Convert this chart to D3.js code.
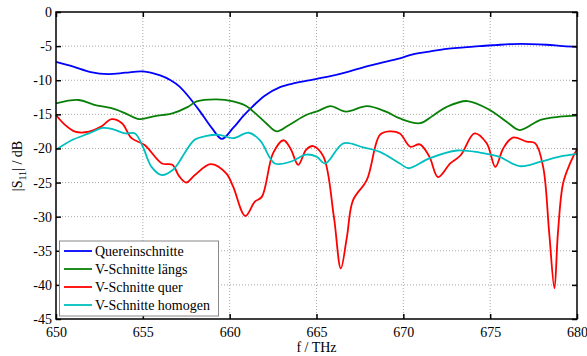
<!DOCTYPE html>
<html>
<head>
<meta charset="utf-8">
<script src="https://cdn.jsdelivr.net/npm/d3@7"></script>
<style>
  body { margin: 0; background: #fff; }
</style>
</head>
<body>
<svg id="chart" width="587" height="356"></svg>
<script>
// Quereinschnitte
const querF = [650, 651, 652, 653, 654, 655, 656, 656.6, 657.1, 657.7, 658.3, 659, 659.55, 660.2, 660.8, 661.3, 662, 662.9, 663.8, 664.8, 665.8, 666.75, 667.7, 668.65, 669.8, 670.55, 671.5, 672.5, 673.5, 674.4, 675.3, 676.3, 677.3, 678.25, 679.2, 680];
const querDb = [-7.3, -8.0, -8.8, -9.1, -8.9, -8.7, -9.3, -10.0, -10.9, -12.6, -14.6, -17.1, -18.6, -17.0, -15.2, -13.9, -12.3, -11.0, -10.4, -9.9, -9.4, -8.8, -8.1, -7.5, -6.8, -6.2, -5.8, -5.4, -5.2, -5.0, -4.85, -4.7, -4.7, -4.8, -5.0, -5.1];

// V-Schnitte längs
const laengsF = [650, 651.3, 652.2, 653.2, 654, 654.8, 655.7, 656.7, 657.6, 658.1, 659.25, 660.2, 660.9, 661.5, 662.1, 662.7, 663.4, 664.4, 665.1, 665.8, 666.7, 667.9, 669, 669.8, 670.95, 671.7, 672.5, 673.7, 675, 676, 676.7, 677.9, 679, 680];
const laengsDb = [-13.4, -12.9, -13.6, -14.1, -14.85, -15.7, -15.25, -14.85, -13.9, -13.1, -12.8, -13.1, -13.7, -14.9, -16.3, -17.5, -16.6, -15.1, -14.5, -13.8, -14.6, -13.8, -14.6, -15.6, -16.3, -15.2, -13.9, -13.05, -14.4, -16.2, -17.3, -15.8, -15.35, -15.2];

// V-Schnitte quer
const vquerF = [650, 650.5, 651.1, 651.9, 652.6, 653.2, 653.8, 654.35, 655.1, 656.1, 656.7, 657.1, 657.5, 658, 658.9, 659.8, 660.2, 660.9, 661.45, 661.85, 662.5, 663.1, 663.5, 663.95, 664.4, 664.8, 665.4, 666, 666.4, 666.75, 667.1, 667.9, 668.65, 669.2, 669.8, 670.4, 670.95, 671.5, 672, 672.7, 673.3, 674.1, 674.8, 675.3, 675.75, 676.3, 677.1, 677.6, 678.05, 678.4, 678.7, 678.9, 679.2, 679.6, 680];
const vquerDb = [-15.1, -16.5, -17.55, -17.55, -16.8, -15.7, -16.3, -18.5, -19.5, -22.2, -22.4, -24.1, -25.0, -23.9, -22.3, -23.65, -25.6, -29.9, -27.8, -27.1, -20.7, -18.8, -20.0, -22.4, -20.2, -19.65, -21.2, -30, -37.6, -33, -27.6, -24.6, -18, -17.5, -17.8, -19.75, -19.4, -21.2, -24.2, -22.2, -21.0, -17.8, -19.25, -22.7, -20.0, -18.4, -19.0, -19.25, -22.7, -32.4, -40.5, -32.45, -25.1, -22.2, -20.1];

// V-Schnitte homogen
const homF = [650, 650.9, 651.9, 652.7, 653.3, 654, 654.55, 655, 655.5, 656.1, 656.7, 657.1, 657.4, 658, 658.6, 659.4, 660.2, 661.1, 661.75, 662.6, 663.5, 664.4, 665, 665.5, 666.55, 667.7, 668.65, 669.8, 670.3, 671.5, 673.1, 674.4, 675.5, 676.7, 677.9, 679, 680];
const homDb = [-20.2, -18.8, -17.8, -17.0, -17.2, -17.8, -17.8, -19.75, -22.7, -23.9, -23.2, -21.95, -20.7, -18.7, -18.2, -18.0, -18.5, -17.7, -18.8, -22.2, -21.95, -20.9, -21.2, -22.2, -19.25, -19.85, -20.5, -22.2, -22.9, -21.45, -20.3, -20.6, -21.2, -22.6, -21.95, -21.2, -20.8];

const xTicks = [650, 655, 660, 665, 670, 675, 680];
const yTicks = [0, -5, -10, -15, -20, -25, -30, -35, -40, -45];

const series = [
  { name: "Quereinschnitte", color: "#0000ff", f: querF, db: querDb },
  { name: "V-Schnitte längs", color: "#088008", f: laengsF, db: laengsDb },
  { name: "V-Schnitte quer", color: "#ff0000", f: vquerF, db: vquerDb },
  { name: "V-Schnitte homogen", color: "#00bfbf", f: homF, db: homDb }
];

const mLeft = 56, mRight = 577, mTop = 12, mBottom = 319;
const fontFam = "Liberation Serif";
const svg = d3.select("#chart");

const x = d3.scaleLinear().domain([650, 680]).range([mLeft, mRight]);
const y = d3.scaleLinear().domain([-45, 0]).range([mBottom, mTop]);

// gitter
const grid = svg.append("g");
xTicks.slice(1, -1).forEach(t => {
  grid.append("line")
    .attr("x1", x(t)).attr("x2", x(t))
    .attr("y1", mTop).attr("y2", mBottom)
    .attr("stroke", "#a8a8a8").attr("stroke-width", 1)
    .attr("stroke-dasharray", "1,2");
});
yTicks.slice(1, -1).forEach(t => {
  grid.append("line")
    .attr("x1", mLeft).attr("x2", mRight)
    .attr("y1", y(t)).attr("y2", y(t))
    .attr("stroke", "#a8a8a8").attr("stroke-width", 1)
    .attr("stroke-dasharray", "1,2");
});

// kurven
const line = d3.line()
  .x(d => x(d[0]))
  .y(d => y(d[1]))
  .curve(d3.curveCatmullRom.alpha(0.5));

const plot = svg.append("g");
series.forEach(s => {
  plot.append("path")
    .datum(s.f.map((f, i) => [f, s.db[i]]))
    .attr("fill", "none")
    .attr("stroke", s.color)
    .attr("stroke-width", 1.8)
    .attr("stroke-linejoin", "round")
    .attr("d", line);
});

// achsen
const tickLen = 5;
const axisG = svg.append("g");
const xAxisB = d3.axisBottom(x).tickValues(xTicks).tickSize(-tickLen).tickPadding(8).tickFormat(d3.format("d"));
const xAxisT = d3.axisTop(x).tickValues(xTicks).tickSize(-tickLen).tickFormat("");
const yAxisL = d3.axisLeft(y).tickValues(yTicks).tickSize(-tickLen).tickPadding(4).tickFormat(d => d === 0 ? "0" : "-" + Math.abs(d));
const yAxisR = d3.axisRight(y).tickValues(yTicks).tickSize(-tickLen).tickFormat("");

[[xAxisB, `translate(0,${mBottom})`], [xAxisT, `translate(0,${mTop})`],
 [yAxisL, `translate(${mLeft},0)`], [yAxisR, `translate(${mRight},0)`]].forEach(([ax, tr]) => {
  const g = axisG.append("g").attr("transform", tr).call(ax);
  g.attr("font-family", fontFam).attr("font-size", 14);
  g.select(".domain").remove();
  g.selectAll(".tick line").attr("stroke", "#000").attr("stroke-width", 1.5);
  g.selectAll("text").attr("fill", "#000").attr("font-family", fontFam);
});

axisG.append("rect")
  .attr("x", mLeft).attr("y", mTop)
  .attr("width", mRight - mLeft).attr("height", mBottom - mTop)
  .attr("fill", "none").attr("stroke", "#000").attr("stroke-width", 1.5);

// achsenbeschriftung
svg.append("text")
  .attr("x", (mLeft + mRight) / 2).attr("y", 352)
  .attr("text-anchor", "middle").attr("font-size", 14)
  .attr("font-family", fontFam)
  .text("f / THz");

const yl = svg.append("text")
  .attr("transform", "translate(22,166) rotate(-90)")
  .attr("text-anchor", "middle").attr("font-size", 14)
  .attr("font-family", fontFam);
yl.append("tspan").text("|S");
yl.append("tspan").attr("font-size", 10).attr("dy", 4).text("11");
yl.append("tspan").attr("dy", -4).text("| / dB");

// legende
const lg = svg.append("g");
lg.append("rect")
  .attr("x", 59.5).attr("y", 241).attr("width", 159).attr("height", 75)
  .attr("fill", "#fff").attr("stroke", "#888").attr("stroke-width", 1);
series.forEach((s, i) => {
  const yy = 251 + i * 18;
  lg.append("line")
    .attr("x1", 64).attr("x2", 92).attr("y1", yy).attr("y2", yy)
    .attr("stroke", s.color).attr("stroke-width", 1.8);
  lg.append("text")
    .attr("x", 95).attr("y", yy + 5)
    .attr("font-size", 14)
    .attr("font-family", fontFam)
    .text(s.name);
});
</script>
</body>
</html>
